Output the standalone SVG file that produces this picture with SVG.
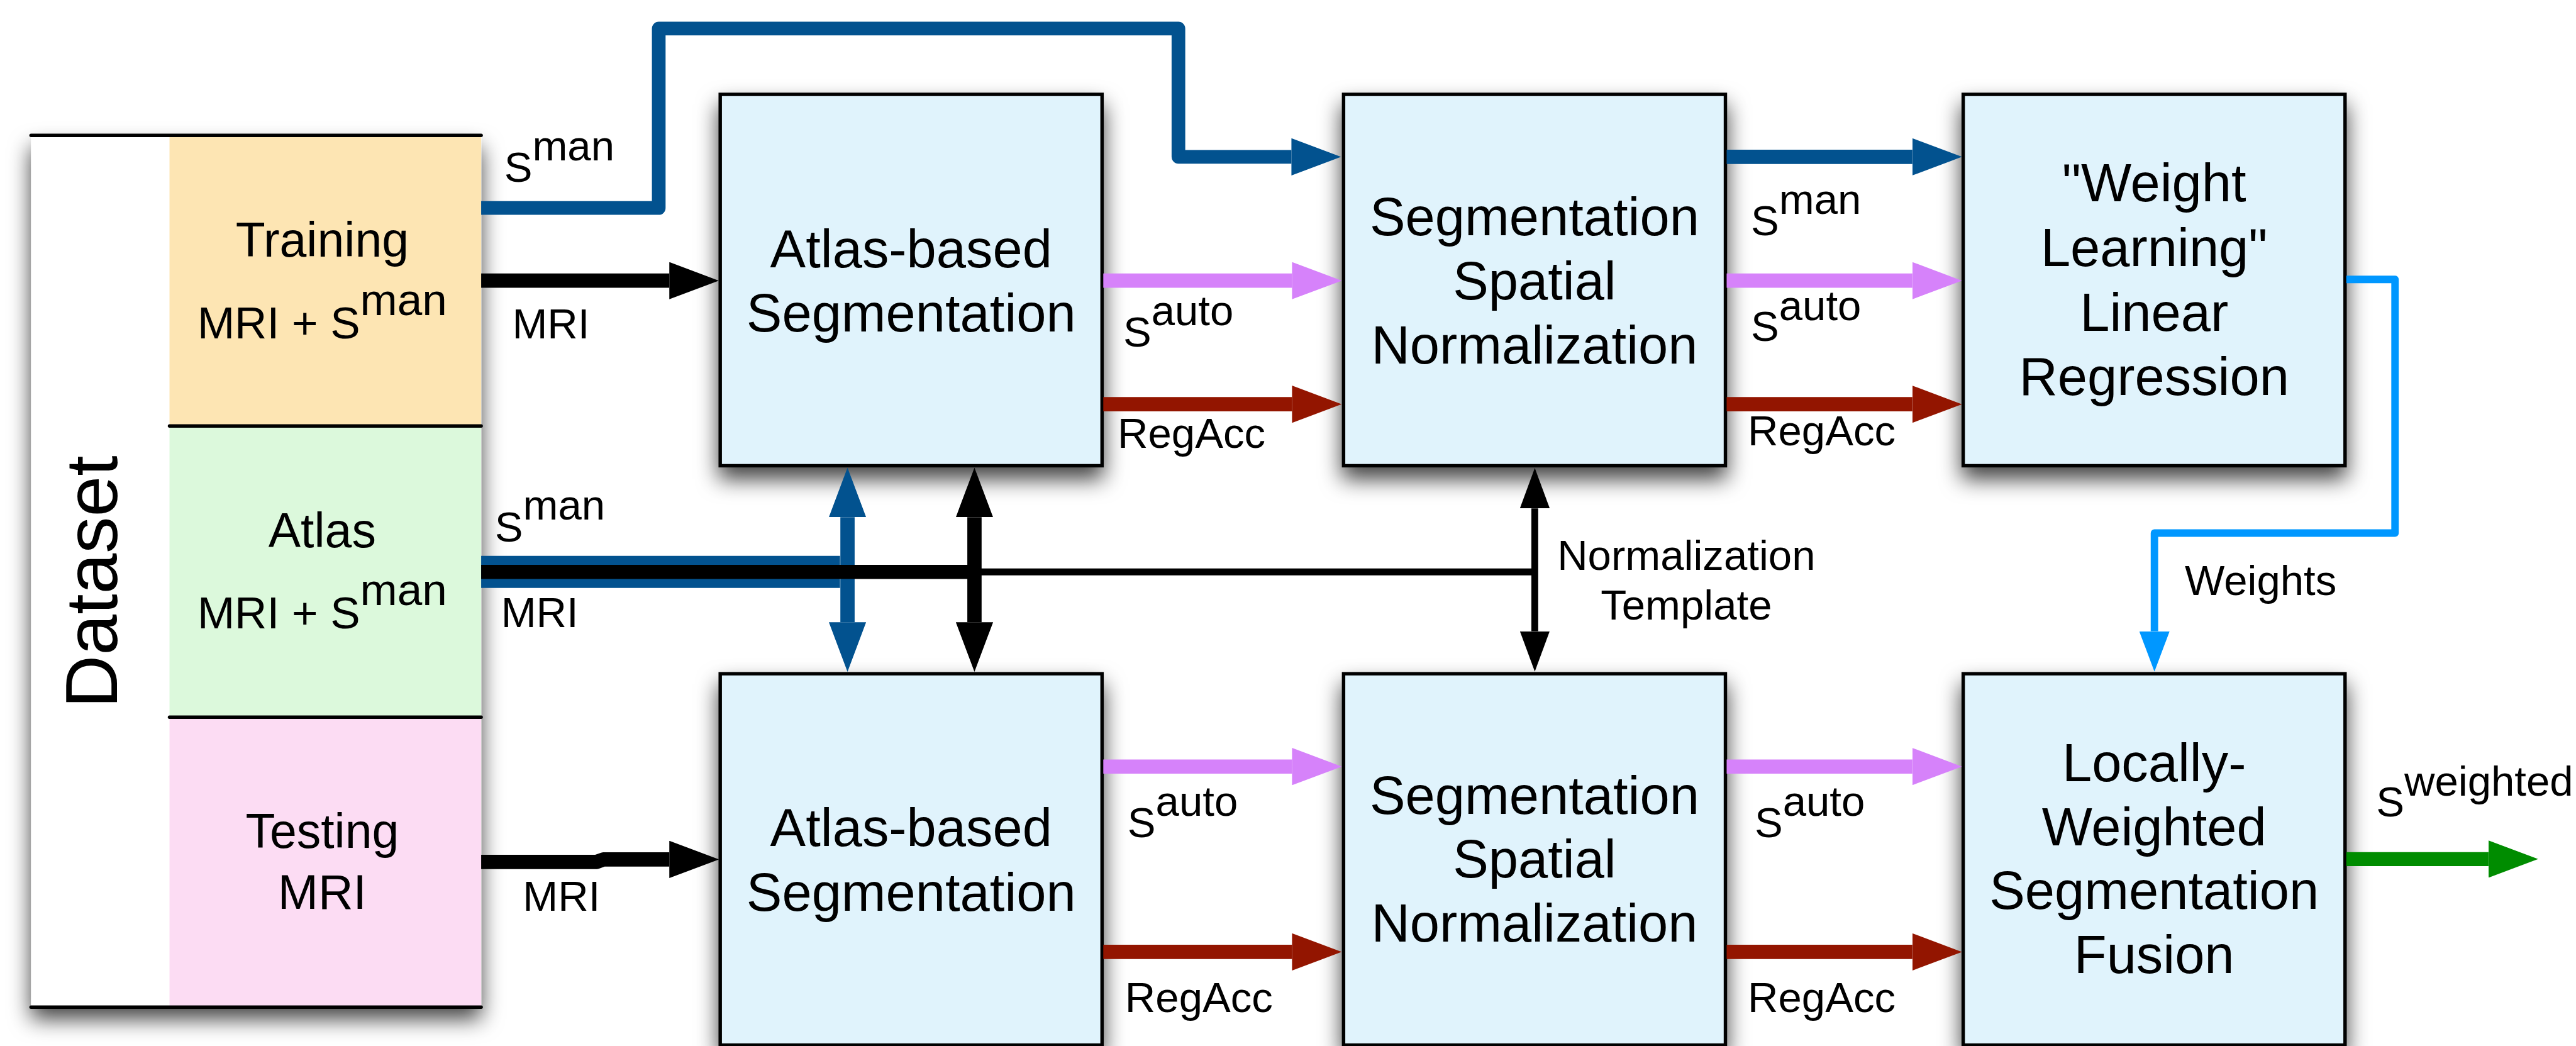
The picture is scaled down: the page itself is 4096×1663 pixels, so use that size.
<svg xmlns="http://www.w3.org/2000/svg" width="4096" height="1663" viewBox="0 0 4096 1663">
  <defs>
    <style>
      text { font-family: "Liberation Sans", Arial, Helvetica, sans-serif; fill: #000; }
      .box { fill: #E0F3FC; stroke: #000; stroke-width: 5.5; }
      .boxtxt { font-size: 86px; text-anchor: middle; }
      .dstxt { font-size: 78px; text-anchor: middle; }
      .dssub { font-size: 72px; text-anchor: middle; }
      .lbl { font-size: 68px; }
      .rule { stroke: #000; stroke-width: 5.5; stroke-linecap: round; fill: none; }
      .wire { fill: none; stroke-linejoin: round; stroke-linecap: butt; }
      .thick { stroke-width: 23; }
      .thin { stroke-width: 11; }
      .c-blue { stroke: #02528F; }
      .c-black { stroke: #000; }
      .c-pink { stroke: #D682FA; }
      .c-red { stroke: #931500; }
      .c-green { stroke: #008C00; }
      .c-lblue { stroke: #0097FF; }
    </style>
    <filter id="shadow" x="-20%" y="-20%" width="140%" height="150%">
      <feDropShadow dx="0" dy="19" stdDeviation="17" flood-color="#000" flood-opacity="0.74"/>
    </filter>
    <!-- wide heads for thick wires (base at marker origin) -->
    <marker id="h-blue" viewBox="0 0 80 60" refX="0" refY="30" markerWidth="80" markerHeight="60" markerUnits="userSpaceOnUse" orient="auto-start-reverse">
      <path d="M0,0 L80,30 L0,60 Z" fill="#02528F"/>
    </marker>
    <marker id="h-black" viewBox="0 0 80 60" refX="0" refY="30" markerWidth="80" markerHeight="60" markerUnits="userSpaceOnUse" orient="auto-start-reverse">
      <path d="M0,0 L80,30 L0,60 Z" fill="#000"/>
    </marker>
    <marker id="h-pink" viewBox="0 0 80 60" refX="0" refY="30" markerWidth="80" markerHeight="60" markerUnits="userSpaceOnUse" orient="auto">
      <path d="M0,0 L80,30 L0,60 Z" fill="#D682FA"/>
    </marker>
    <marker id="h-red" viewBox="0 0 80 60" refX="0" refY="30" markerWidth="80" markerHeight="60" markerUnits="userSpaceOnUse" orient="auto">
      <path d="M0,0 L80,30 L0,60 Z" fill="#931500"/>
    </marker>
    <marker id="h-green" viewBox="0 0 80 60" refX="0" refY="30" markerWidth="80" markerHeight="60" markerUnits="userSpaceOnUse" orient="auto">
      <path d="M0,0 L80,30 L0,60 Z" fill="#008C00"/>
    </marker>
    <!-- narrow heads for thin wires -->
    <marker id="t-black" viewBox="0 0 65 48" refX="0" refY="24" markerWidth="65" markerHeight="48" markerUnits="userSpaceOnUse" orient="auto-start-reverse">
      <path d="M0,0 L65,24 L0,48 Z" fill="#000"/>
    </marker>
    <marker id="t-lblue" viewBox="0 0 65 49" refX="0" refY="24.5" markerWidth="65" markerHeight="49" markerUnits="userSpaceOnUse" orient="auto">
      <path d="M0,0 L65,24.5 L0,49 Z" fill="#0097FF"/>
    </marker>
  </defs>

  <rect width="4096" height="1663" fill="#fff"/>

  <g transform="scale(0.98723)">

    <!-- Dataset table -->
    <g id="dataset">
      <rect x="50" y="218" width="725" height="1404" fill="#fff" filter="url(#shadow)"/>
      <rect x="273" y="218" width="502" height="468" fill="#FDE5B3"/>
      <rect x="273" y="686" width="502" height="469" fill="#DCF9DC"/>
      <rect x="273" y="1155" width="502" height="467" fill="#FCDCF3"/>
      <line class="rule" x1="50" y1="218" x2="775" y2="218"/>
      <line class="rule" x1="273" y1="686" x2="775" y2="686"/>
      <line class="rule" x1="273" y1="1155" x2="775" y2="1155"/>
      <line class="rule" x1="50" y1="1622" x2="775" y2="1622"/>
      <text transform="translate(188,937) rotate(-90)" font-size="118" text-anchor="middle">Dataset</text>
      <text class="dstxt" x="519" y="413">Training</text>
      <text class="dssub" x="519" y="545">MRI + S<tspan dy="-38">man</tspan></text>
      <text class="dstxt" x="519" y="881">Atlas</text>
      <text class="dssub" x="519" y="1012">MRI + S<tspan dy="-38">man</tspan></text>
      <text class="dstxt" x="519" y="1365">Testing</text>
      <text class="dstxt" x="519" y="1464">MRI</text>
    </g>

    <!-- Processing blocks -->
    <g id="atlas-seg-train">
      <rect class="box" x="1160" y="152" width="615" height="598" filter="url(#shadow)"/>
      <text class="boxtxt" x="1467.5" y="430">Atlas-based</text>
      <text class="boxtxt" x="1467.5" y="534">Segmentation</text>
    </g>
    <g id="spatial-norm-train">
      <rect class="box" x="2164" y="152" width="615" height="598" filter="url(#shadow)"/>
      <text class="boxtxt" x="2471.5" y="378.5">Segmentation</text>
      <text class="boxtxt" x="2471.5" y="482">Spatial</text>
      <text class="boxtxt" x="2471.5" y="585.5">Normalization</text>
    </g>
    <g id="weight-learning">
      <rect class="box" x="3162" y="152" width="615" height="598" filter="url(#shadow)"/>
      <text class="boxtxt" x="3469.5" y="324.5">&quot;Weight</text>
      <text class="boxtxt" x="3469.5" y="428.5">Learning&quot;</text>
      <text class="boxtxt" x="3469.5" y="532.5">Linear</text>
      <text class="boxtxt" x="3469.5" y="636">Regression</text>
    </g>
    <g id="atlas-seg-test">
      <rect class="box" x="1160" y="1085" width="615" height="598" filter="url(#shadow)"/>
      <text class="boxtxt" x="1467.5" y="1362">Atlas-based</text>
      <text class="boxtxt" x="1467.5" y="1466.5">Segmentation</text>
    </g>
    <g id="spatial-norm-test">
      <rect class="box" x="2164" y="1085" width="615" height="598" filter="url(#shadow)"/>
      <text class="boxtxt" x="2471.5" y="1310.5">Segmentation</text>
      <text class="boxtxt" x="2471.5" y="1413.5">Spatial</text>
      <text class="boxtxt" x="2471.5" y="1516.5">Normalization</text>
    </g>
    <g id="weighted-fusion">
      <rect class="box" x="3162" y="1085" width="615" height="598" filter="url(#shadow)"/>
      <text class="boxtxt" x="3469.5" y="1258">Locally-</text>
      <text class="boxtxt" x="3469.5" y="1361">Weighted</text>
      <text class="boxtxt" x="3469.5" y="1464">Segmentation</text>
      <text class="boxtxt" x="3469.5" y="1567">Fusion</text>
    </g>

    <!-- Wires between blocks -->
    <g id="connectors">
      <!-- training set -->
      <path class="wire c-blue" stroke-width="22" d="M775,335 H1061 V46 H1898 V252.6 H2080" marker-end="url(#h-blue)"/>
      <path class="wire thick c-black" d="M775,452 H1078" marker-end="url(#h-black)"/>
      <!-- atlas bus -->
      <path class="wire c-blue" stroke-width="51.7" d="M775,921 H1353"/>
      <path class="wire thick c-blue" d="M1365,833 V1002" marker-start="url(#h-blue)" marker-end="url(#h-blue)"/>
      <path class="wire thick c-black" d="M775,921 H1570"/>
      <path class="wire thick c-black" d="M1569.5,833 V1002" marker-start="url(#h-black)" marker-end="url(#h-black)"/>
      <path class="wire thin c-black" d="M1569.5,921 H2472"/>
      <path class="wire thin c-black" d="M2472,818.6 V1016.5" marker-start="url(#t-black)" marker-end="url(#t-black)"/>
      <!-- testing set -->
      <path class="wire thick c-black" d="M775,1388 H961 L972,1384 H1078" marker-end="url(#h-black)"/>
      <!-- top row -->
      <path class="wire thick c-pink" d="M1777,452 H2081" marker-end="url(#h-pink)"/>
      <path class="wire thick c-red" d="M1777,651 H2081" marker-end="url(#h-red)"/>
      <path class="wire thick c-blue" d="M2781,252.6 H3080" marker-end="url(#h-blue)"/>
      <path class="wire thick c-pink" d="M2781,452 H3080" marker-end="url(#h-pink)"/>
      <path class="wire thick c-red" d="M2781,651 H3080" marker-end="url(#h-red)"/>
      <!-- learned weights -->
      <path class="wire c-lblue" stroke-width="12" d="M3779,450 H3857.5 V858.5 H3470 V1016.5" marker-end="url(#t-lblue)"/>
      <!-- bottom row -->
      <path class="wire thick c-pink" d="M1777,1234.5 H2081" marker-end="url(#h-pink)"/>
      <path class="wire thick c-red" d="M1777,1533 H2081" marker-end="url(#h-red)"/>
      <path class="wire thick c-pink" d="M2781,1234.5 H3080" marker-end="url(#h-pink)"/>
      <path class="wire thick c-red" d="M2781,1533 H3080" marker-end="url(#h-red)"/>
      <path class="wire c-green" stroke-width="22.5" d="M3779,1383.5 H4008" marker-end="url(#h-green)"/>
    </g>

    <!-- Wire labels -->
    <g id="wire-labels">
      <text class="lbl" x="812" y="293">S<tspan dy="-35">man</tspan></text>
      <text class="lbl" x="825" y="545">MRI</text>
      <text class="lbl" x="797" y="872">S<tspan dy="-35">man</tspan></text>
      <text class="lbl" x="807" y="1010">MRI</text>
      <text class="lbl" x="842" y="1467">MRI</text>
      <text class="lbl" x="1809" y="558">S<tspan dy="-34">auto</tspan></text>
      <text class="lbl" x="1800" y="721">RegAcc</text>
      <text class="lbl" x="2820" y="378.5">S<tspan dy="-34">man</tspan></text>
      <text class="lbl" x="2820" y="549.5">S<tspan dy="-34">auto</tspan></text>
      <text class="lbl" x="2815" y="717">RegAcc</text>
      <text class="lbl" x="2716" y="918" text-anchor="middle">Normalization</text>
      <text class="lbl" x="2716" y="997.5" text-anchor="middle">Template</text>
      <text class="lbl" x="3519" y="958.5">Weights</text>
      <text class="lbl" x="1816" y="1348">S<tspan dy="-34">auto</tspan></text>
      <text class="lbl" x="1812" y="1629.5">RegAcc</text>
      <text class="lbl" x="2826" y="1348">S<tspan dy="-34">auto</tspan></text>
      <text class="lbl" x="2815" y="1629.5">RegAcc</text>
      <text class="lbl" x="3827" y="1315">S<tspan dy="-33.5">weighted</tspan></text>
    </g>
  </g>
</svg>
